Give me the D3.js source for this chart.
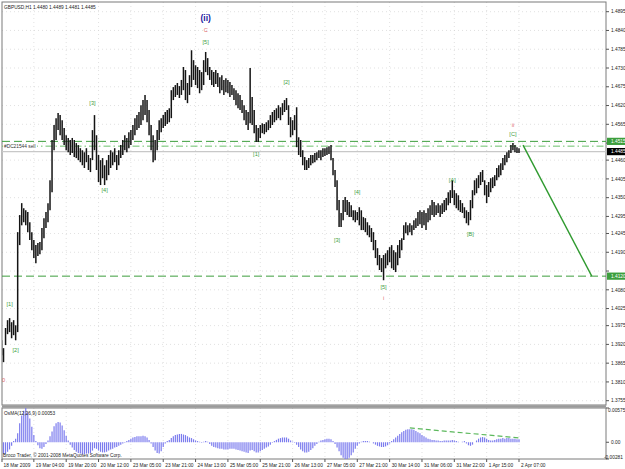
<!DOCTYPE html>
<html>
<head>
<meta charset="utf-8">
<script src="https://cdn.jsdelivr.net/npm/d3@7"></script>
<style>
body { margin: 0; background: #fff; }
svg { display: block; }
text { font-family: "Liberation Sans", Arial, sans-serif; }
</style>
</head>
<body>
<div id="chart"></div>
<script>
// GBPUSD H1 bars, 18 Mar 2009 12:00 .. 2 Apr 2009 07:00
var highs = [1.3932,1.3909,1.3968,1.3991,1.3997,1.3985,1.3991,1.3976,1.4249,1.4299,
1.4334,1.4319,1.4313,1.4308,1.4278,1.4249,1.4226,1.4211,1.4217,1.4220,
1.4261,1.4290,1.4308,1.4334,1.4401,1.4519,1.4563,1.4583,1.4598,1.4592,
1.4577,1.4554,1.4533,1.4525,1.4519,1.4525,1.4519,1.4510,1.4504,1.4495,
1.4489,1.4483,1.4495,1.4475,1.4466,1.4548,1.4592,1.4533,1.4475,1.4460,
1.4466,1.4445,1.4460,1.4475,1.4489,1.4483,1.4495,1.4475,1.4489,1.4504,
1.4519,1.4533,1.4525,1.4542,1.4548,1.4563,1.4583,1.4592,1.4601,1.4621,
1.4636,1.4651,1.4636,1.4607,1.4563,1.4533,1.4519,1.4548,1.4577,1.4583,
1.4592,1.4601,1.4607,1.4612,1.4665,1.4674,1.4680,1.4686,1.4677,1.4695,
1.4733,1.4724,1.4686,1.4709,1.4782,1.4753,1.4738,1.4733,1.4724,1.4718,
1.4753,1.4777,1.4759,1.4733,1.4724,1.4718,1.4724,1.4715,1.4703,1.4709,
1.4695,1.4700,1.4695,1.4689,1.4680,1.4671,1.4665,1.4656,1.4651,1.4636,
1.4621,1.4607,1.4601,1.4730,1.4645,1.4607,1.4563,1.4554,1.4563,1.4568,
1.4566,1.4571,1.4577,1.4592,1.4601,1.4607,1.4612,1.4621,1.4615,1.4627,
1.4636,1.4642,1.4621,1.4586,1.4577,1.4592,1.4615,1.4527,1.4519,1.4489,
1.4469,1.4460,1.4466,1.4475,1.4475,1.4481,1.4483,1.4489,1.4489,1.4495,
1.4495,1.4498,1.4501,1.4504,1.4466,1.4431,1.4401,1.4343,1.4305,1.4343,
1.4352,1.4343,1.4337,1.4328,1.4313,1.4313,1.4308,1.4322,1.4313,1.4293,
1.4290,1.4278,1.4269,1.4261,1.4249,1.4226,1.4202,1.4182,1.4173,1.4182,
1.4187,1.4196,1.4205,1.4211,1.4196,1.4190,1.4211,1.4226,1.4231,1.4269,
1.4278,1.4269,1.4275,1.4269,1.4284,1.4290,1.4308,1.4313,1.4308,1.4313,
1.4305,1.4319,1.4328,1.4343,1.4337,1.4328,1.4334,1.4328,1.4334,1.4343,
1.4349,1.4366,1.4372,1.4401,1.4372,1.4363,1.4357,1.4343,1.4334,1.4322,
1.4313,1.4308,1.4343,1.4372,1.4401,1.4407,1.4416,1.4425,1.4431,1.4401,
1.4387,1.4396,1.4407,1.4410,1.4416,1.4437,1.4445,1.4451,1.4466,1.4475,
1.4483,1.4489,1.4504,1.4510,1.4504,1.4498,1.4495];

var lows = [1.3888,1.3868,1.3918,1.3950,1.3956,1.3938,1.3947,1.3932,1.3956,1.4211,
1.4269,1.4278,1.4269,1.4249,1.4226,1.4196,1.4173,1.4158,1.4179,1.4184,
1.4196,1.4231,1.4261,1.4278,1.4313,1.4366,1.4489,1.4519,1.4548,1.4533,
1.4519,1.4504,1.4489,1.4483,1.4475,1.4481,1.4469,1.4466,1.4460,1.4454,
1.4445,1.4437,1.4454,1.4431,1.4425,1.4460,1.4489,1.4431,1.4396,1.4387,
1.4407,1.4387,1.4401,1.4416,1.4437,1.4445,1.4454,1.4431,1.4445,1.4466,
1.4475,1.4489,1.4483,1.4495,1.4504,1.4519,1.4533,1.4548,1.4554,1.4563,
1.4577,1.4592,1.4571,1.4533,1.4489,1.4454,1.4460,1.4489,1.4519,1.4542,
1.4554,1.4560,1.4566,1.4571,1.4583,1.4636,1.4645,1.4651,1.4642,1.4651,
1.4665,1.4636,1.4627,1.4651,1.4674,1.4695,1.4680,1.4671,1.4656,1.4665,
1.4680,1.4718,1.4709,1.4695,1.4680,1.4674,1.4683,1.4674,1.4656,1.4665,
1.4651,1.4659,1.4656,1.4645,1.4651,1.4636,1.4621,1.4612,1.4607,1.4598,
1.4577,1.4563,1.4548,1.4568,1.4563,1.4539,1.4513,1.4513,1.4525,1.4539,
1.4536,1.4542,1.4548,1.4554,1.4563,1.4571,1.4577,1.4583,1.4577,1.4592,
1.4601,1.4607,1.4563,1.4527,1.4533,1.4548,1.4498,1.4475,1.4469,1.4445,
1.4431,1.4431,1.4437,1.4445,1.4451,1.4454,1.4460,1.4466,1.4460,1.4469,
1.4472,1.4475,1.4478,1.4460,1.4416,1.4381,1.4313,1.4264,1.4264,1.4284,
1.4308,1.4299,1.4293,1.4293,1.4284,1.4278,1.4284,1.4269,1.4255,1.4255,
1.4249,1.4240,1.4234,1.4220,1.4196,1.4173,1.4152,1.4138,1.4132,1.4108,
1.4143,1.4152,1.4161,1.4143,1.4138,1.4132,1.4152,1.4173,1.4196,1.4226,
1.4246,1.4240,1.4249,1.4240,1.4255,1.4261,1.4267,1.4272,1.4261,1.4269,
1.4255,1.4278,1.4284,1.4299,1.4293,1.4299,1.4305,1.4293,1.4302,1.4308,
1.4313,1.4328,1.4334,1.4349,1.4328,1.4319,1.4313,1.4308,1.4305,1.4290,
1.4275,1.4269,1.4284,1.4319,1.4357,1.4363,1.4378,1.4387,1.4396,1.4357,
1.4334,1.4352,1.4366,1.4378,1.4384,1.4401,1.4410,1.4416,1.4431,1.4445,
1.4454,1.4466,1.4481,1.4489,1.4483,1.4481,1.4481];

// OsMA(12,26,9) histogram, one value per bar
var osma = [-0.0018,-0.0020,-0.0019,-0.0016,-0.0012,-0.0006,0.0002,0.0006,0.0015,0.0032,
0.0045,0.0053,0.00575,0.0050,0.0040,0.0026,0.0012,0.0002,-0.0005,-0.0010,
-0.0011,-0.0008,-0.0003,0.0003,0.0010,0.0018,0.0027,0.0032,0.0034,0.0033,
0.0028,0.0020,0.0011,0.0003,-0.0004,-0.0009,-0.0013,-0.0016,-0.0018,-0.0019,
-0.0020,-0.0020,-0.0019,-0.0019,-0.0018,-0.0014,-0.0010,-0.0011,-0.0014,-0.0016,
-0.0017,-0.0017,-0.0016,-0.0014,-0.0012,-0.0011,-0.0009,-0.0008,-0.0006,-0.0004,
-0.0002,-0.0001,0.0002,0.0004,0.0006,0.0008,0.0009,0.0010,0.0010,0.0010,
0.0011,0.0010,0.0008,0.0004,-0.0002,-0.0008,-0.0014,-0.0018,-0.0019,-0.0015,
-0.0008,-0.0002,0.0002,0.0004,0.0007,0.0010,0.0012,0.0013,0.0014,0.0014,
0.0013,0.0012,0.0010,0.0008,0.0007,0.0005,0.0003,0.0002,0.0001,-0.0001,
0.0001,0.0002,0.0001,-0.0003,-0.0006,-0.0008,-0.0009,-0.0010,-0.0011,-0.0011,
-0.0012,-0.0012,-0.0012,-0.0011,-0.0011,-0.0011,-0.0012,-0.0013,-0.0014,-0.0015,
-0.0016,-0.0017,-0.0018,-0.0014,-0.0013,-0.0015,-0.0017,-0.0017,-0.0015,-0.0013,
-0.0011,-0.0009,-0.0007,-0.0004,-0.0001,0.0002,0.0004,0.0006,0.0007,0.0008,
0.0008,0.0008,0.0006,0.0003,0.0001,-0.0001,-0.0004,-0.0008,-0.0012,-0.0015,
-0.0017,-0.0017,-0.0016,-0.0013,-0.0010,-0.0006,-0.0003,0.0001,0.0003,0.0004,
0.0005,0.0006,0.0006,0.0005,0.0002,-0.0003,-0.0009,-0.0015,-0.0022,-0.0026,
-0.0028,-0.00281,-0.0026,-0.0022,-0.0017,-0.0011,-0.0006,-0.0002,0.0001,0.0002,
0.0002,0.0002,0.0001,0.0000,-0.0002,-0.0004,-0.0006,-0.0007,-0.0008,-0.0008,
-0.0007,-0.0005,-0.0002,0.0002,0.0005,0.0008,0.0011,0.0014,0.0017,0.0019,
0.0021,0.0022,0.0022,0.0022,0.0021,0.0019,0.0017,0.0015,0.0012,0.0010,
0.0008,0.0006,0.0005,0.0004,0.0004,0.0003,0.0003,0.0002,0.0002,0.0003,
0.0003,0.0003,0.0003,0.0004,0.0003,0.0002,0.0001,0.0000,0.0001,0.0002,
-0.0002,-0.0005,-0.0006,-0.0004,0.0000,0.0003,0.0006,0.0008,0.0009,0.0008,
0.0006,0.0004,0.0003,0.0003,0.0004,0.0005,0.0006,0.0006,0.0007,0.0006,
0.0007,0.0007,0.0006,0.0006,0.0006,0.0005,0.0005];

var timeLabels = ["18 Mar 2009","19 Mar 04:00","19 Mar 20:00","20 Mar 12:00","23 Mar 05:00",
  "23 Mar 21:00","24 Mar 13:00","25 Mar 05:00","25 Mar 21:00","26 Mar 13:00","27 Mar 05:00",
  "27 Mar 21:00","30 Mar 14:00","31 Mar 06:00","31 Mar 22:00","1 Apr 15:00","2 Apr 07:00"];
var barsPerLabel = 16;

var priceTicks = [1.4895,1.4840,1.4785,1.4730,1.4675,1.4620,1.4565,1.4510,1.4460,1.4405,
  1.4350,1.4295,1.4245,1.4190,1.4135,1.4080,1.4025,1.3975,1.3920,1.3865,1.3810,1.3755];

// horizontal levels: support/resistance, the sell order, and the bid
var levelPrices = [1.4515, 1.4120];
var orderPrice = 1.4501;
var orderText = "#DC21544 sell";
var bidPrice = 1.4485;

// projected move after wave ii (bar index, price)
var trendBars = [258, 292];
var trendPrices = [1.4504, 1.4120];

// divergence line on the OsMA
var divBars = [202, 257];
var divValues = [0.0024, 0.0007];

var waveText  = ["(ii)","C","[5]","[3]","[4]","[1]","[2]","0","[1]","[2]","[3]","[4]","[5]","i","[A]","[B]","[C]","ii"];
var waveBar   = [101,101,101,45,51,4,7,1,126,141,166,176,189,189,223,232,253,253];
var wavePrice = [1.4876,1.4841,1.4806,1.4627,1.4372,1.4038,1.3904,1.3816,1.4478,1.4689,1.4226,1.4366,1.4088,1.4056,1.4402,1.4243,1.4536,1.4563];
var waveKind  = ["major","red","green","green","green","green","green","red","green","green","green","green","green","red","green","green","green","red"];

var indTicks = [0.00575, 0, -0.00281];
var indTickText = ["0.00575", "0.00", "-0.00281"];
var indTickX = [608, 611, 604];

var W = 625, H = 469;
var main = {left: 2, right: 606, top: 2, bottom: 405};
var ind = {top: 408, bottom: 459};
var green = "#3d9e3d";
var fs = 4.8;

var svg = d3.select("#chart").append("svg")
    .attr("width", W)
    .attr("height", H);

svg.append("rect").attr("width", W).attr("height", H).attr("fill", "#fff");

var x = d3.scaleLinear().domain([0, 256]).range([1.5, 519]);
var y = d3.scaleLinear().domain([1.3755, 1.4895]).range([400.7, 11.7]);
var yi = d3.scaleLinear().domain([-0.00281, 0.00575]).range([ind.bottom, ind.top]);

var defs = svg.append("defs");
defs.append("clipPath").attr("id", "clipMain").append("rect")
    .attr("x", main.left).attr("y", main.top)
    .attr("width", main.right - main.left).attr("height", main.bottom - main.top);
defs.append("clipPath").attr("id", "clipInd").append("rect")
    .attr("x", main.left).attr("y", ind.top)
    .attr("width", main.right - main.left).attr("height", ind.bottom - ind.top);

// dotted grid
var grid = svg.append("g").attr("stroke", "#d4d4d4").attr("stroke-dasharray", "1,3").attr("stroke-width", 0.7);
priceTicks.forEach(function (p) {
    grid.append("line").attr("x1", main.left).attr("x2", main.right)
        .attr("y1", y(p)).attr("y2", y(p));
});
timeLabels.forEach(function (t, k) {
    var xx = x(k * barsPerLabel);
    if (xx < main.left + 3) return;
    grid.append("line").attr("x1", xx).attr("x2", xx).attr("y1", main.top).attr("y2", main.bottom);
    grid.append("line").attr("x1", xx).attr("x2", xx).attr("y1", ind.top).attr("y2", ind.bottom);
});

// frames
var frame = svg.append("g").attr("fill", "none").attr("stroke", "#7a7a7a");
frame.append("rect").attr("x", main.left).attr("y", main.top)
    .attr("width", main.right - main.left).attr("height", main.bottom - main.top);
frame.append("rect").attr("x", main.left).attr("y", ind.top)
    .attr("width", main.right - main.left).attr("height", ind.bottom - ind.top);
svg.append("line").attr("x1", main.left).attr("x2", main.right)
    .attr("y1", 406.5).attr("y2", 406.5).attr("stroke", "#9a9a9a").attr("stroke-width", 2.5);

// levels
var lv = svg.append("g").attr("clip-path", "url(#clipMain)");
lv.append("line").attr("x1", main.left).attr("x2", main.right)
    .attr("y1", y(bidPrice)).attr("y2", y(bidPrice))
    .attr("stroke", "#c8c8c8").attr("stroke-width", 1.2);
levelPrices.forEach(function (p) {
    lv.append("line").attr("x1", main.left).attr("x2", main.right)
        .attr("y1", y(p)).attr("y2", y(p))
        .attr("stroke", green).attr("stroke-width", 1)
        .attr("stroke-dasharray", "8,4");
});
lv.append("line").attr("x1", main.left).attr("x2", main.right)
    .attr("y1", y(orderPrice)).attr("y2", y(orderPrice))
    .attr("stroke", "#6cc06c").attr("stroke-width", 1)
    .attr("stroke-dasharray", "7,3,1.5,3");

// bars
var bars = svg.append("g").attr("clip-path", "url(#clipMain)");
bars.selectAll("line")
    .data(highs)
    .enter()
    .append("line")
    .attr("x1", function (d, i) { return x(i); })
    .attr("x2", function (d, i) { return x(i); })
    .attr("y1", function (d) { return y(d); })
    .attr("y2", function (d, i) { return y(lows[i]); })
    .attr("stroke", "#141414")
    .attr("stroke-width", 1.5);

// order label
svg.append("rect").attr("x", 3).attr("y", y(orderPrice) - 3.5).attr("width", 34).attr("height", 5.5).attr("fill", "#fff");
svg.append("text").attr("x", 4).attr("y", y(orderPrice) + 1.6)
    .attr("font-size", fs).attr("fill", "#333").text(orderText);

// trend projection
svg.append("line")
    .attr("x1", x(trendBars[0])).attr("y1", y(trendPrices[0]))
    .attr("x2", x(trendBars[1])).attr("y2", y(trendPrices[1]))
    .attr("stroke", "#2f9a2f").attr("stroke-width", 1.4);

// wave labels
var waveColor = {major: "#1a1aa0", red: "#e06666", green: green};
waveText.forEach(function (t, k) {
    var major = waveKind[k] == "major";
    svg.append("text")
        .attr("x", x(waveBar[k]))
        .attr("y", y(wavePrice[k]))
        .attr("text-anchor", "middle")
        .attr("dominant-baseline", "central")
        .attr("font-size", major ? 8.5 : 5.6)
        .attr("font-weight", major ? "bold" : "normal")
        .attr("font-family", major ? "'DejaVu Serif', serif" : null)
        .attr("fill", waveColor[waveKind[k]])
        .text(t);
});

// price axis
var ax = svg.append("g");
priceTicks.forEach(function (p) {
    ax.append("line").attr("x1", main.right).attr("x2", main.right + 3)
        .attr("y1", y(p)).attr("y2", y(p)).attr("stroke", "#555");
    var hidden = levelPrices.concat([bidPrice]).some(function (q) { return Math.abs(y(q) - y(p)) < 6; });
    if (hidden) return;
    ax.append("text").attr("x", 611).attr("y", y(p) + 1.7)
        .attr("font-size", fs).attr("fill", "#222").text(p.toFixed(4));
});
function priceBox(p, bg) {
    ax.append("rect").attr("x", 607).attr("y", y(p) - 3.6).attr("width", 18).attr("height", 7.2).attr("fill", bg);
    ax.append("text").attr("x", 611).attr("y", y(p) + 1.7)
        .attr("font-size", fs).attr("fill", "#fff").text(p.toFixed(4));
}
levelPrices.forEach(function (p) { priceBox(p, green); });
priceBox(bidPrice, "#000");

// OsMA histogram
var hist = svg.append("g").attr("clip-path", "url(#clipInd)");
hist.selectAll("line")
    .data(osma)
    .enter()
    .append("line")
    .attr("x1", function (d, i) { return x(i); })
    .attr("x2", function (d, i) { return x(i); })
    .attr("y1", yi(0))
    .attr("y2", function (d) { return yi(d); })
    .attr("stroke", "#7c7cee")
    .attr("stroke-width", 1.2);
svg.append("line")
    .attr("x1", x(divBars[0])).attr("y1", yi(divValues[0]))
    .attr("x2", x(divBars[1])).attr("y2", yi(divValues[1]))
    .attr("stroke", "#5cb85c").attr("stroke-width", 1.2).attr("stroke-dasharray", "5,3");

indTicks.forEach(function (v, k) {
    ax.append("line").attr("x1", main.right).attr("x2", main.right + 3)
        .attr("y1", yi(v)).attr("y2", yi(v)).attr("stroke", "#555");
    ax.append("text").attr("x", indTickX[k])
        .attr("y", Math.max(Math.min(yi(v) + 1.7, ind.bottom - 0.5), ind.top + 4))
        .attr("font-size", fs).attr("fill", "#222").text(indTickText[k]);
});

// time axis
timeLabels.forEach(function (t, k) {
    var xx = x(k * barsPerLabel);
    ax.append("line").attr("x1", Math.max(xx, main.left)).attr("x2", Math.max(xx, main.left))
        .attr("y1", ind.bottom).attr("y2", ind.bottom + 3).attr("stroke", "#555");
    ax.append("text").attr("x", Math.max(xx, 1) + 2).attr("y", 467)
        .attr("font-size", fs).attr("fill", "#222").text(t);
});

// captions
svg.append("text").attr("x", 4).attr("y", 9).attr("font-size", fs).attr("fill", "#222")
    .text("GBPUSD,H1  1.4480 1.4489 1.4481 1.4485");
svg.append("text").attr("x", 4).attr("y", 415).attr("font-size", fs).attr("fill", "#222")
    .text("OsMA(12,26,9) 0.00053");
svg.append("text").attr("x", 3).attr("y", 457).attr("font-size", fs).attr("fill", "#222")
    .text("Broco Trader, \u00a9 2001-2008 MetaQuotes Software Corp.");
</script>
</body>
</html>
